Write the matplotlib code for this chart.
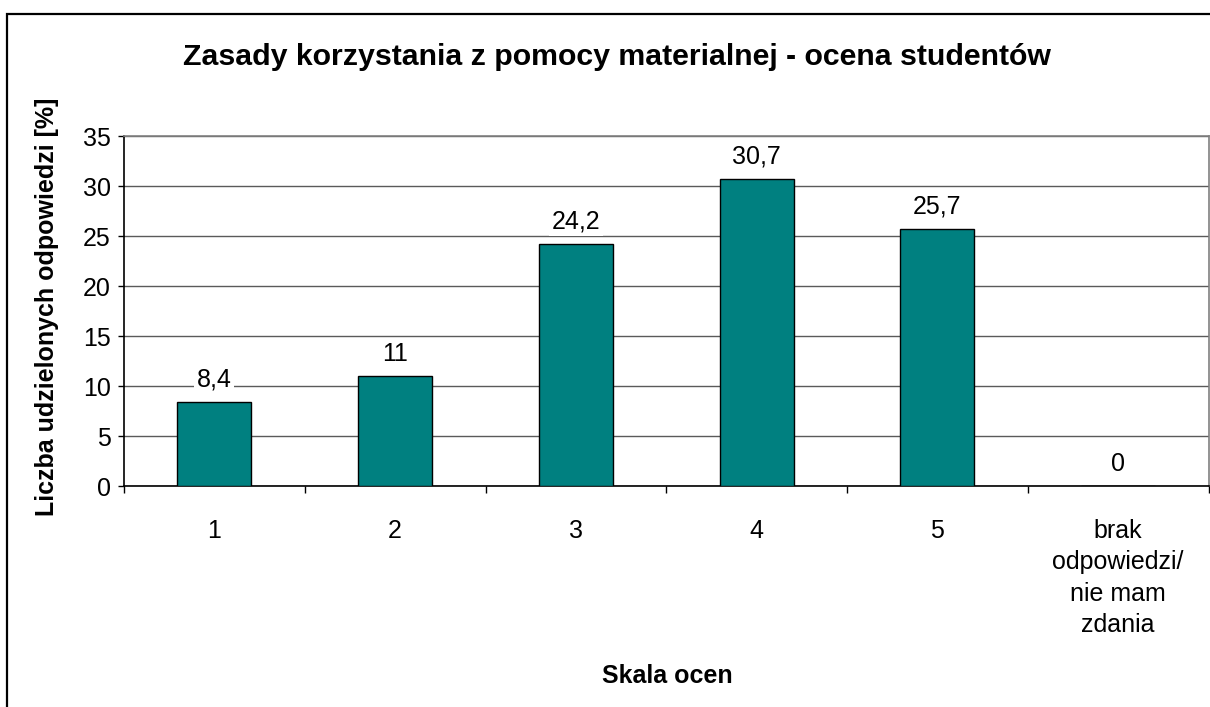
import matplotlib
matplotlib.use("Agg")
import matplotlib.pyplot as plt
from matplotlib.patches import Rectangle

categories = ["1", "2", "3", "4", "5", "brak\nodpowiedzi/\nnie mam\nzdania"]
values = [8.4, 11, 24.2, 30.7, 25.7, 0]
value_labels = ["8,4", "11", "24,2", "30,7", "25,7", "0"]
yticks = [0, 5, 10, 15, 20, 25, 30, 35]

plt.rcParams['font.family'] = ['Liberation Sans', 'DejaVu Sans']

W, H = 1210, 707
fig = plt.figure(figsize=(W / 100, H / 100), dpi=100)
fig.patch.set_facecolor('white')

# outer chart border (only left/top visible)
fig.patches.append(Rectangle((7 / W, -0.05), 1.2, 1 - 14 / H + 0.05,
                             transform=fig.transFigure, fill=False,
                             edgecolor='black', linewidth=1.6))

ax = fig.add_axes([124 / W, 1 - 486 / H, (1208.5 - 124) / W, (486 - 136) / H])
x = list(range(len(categories)))
ax.bar(x, values, width=0.41, color='#008080', edgecolor='black', linewidth=1, zorder=3)

ax.set_xlim(-0.5, len(categories) - 0.5)
ax.set_ylim(0, 35)
ax.set_yticks(yticks)
ax.set_yticklabels([str(v) for v in yticks], fontsize=18)
ax.yaxis.grid(True, color='#5a5a5a', linewidth=1, zorder=0)
ax.set_axisbelow(True)

ax.set_xticks(x)
ax.set_xticklabels(categories, fontsize=18, linespacing=1.4, va='top')
ax.set_xticks([i - 0.5 for i in range(len(categories) + 1)], minor=True)
ax.tick_params(axis='x', which='major', length=0, pad=23.5)
ax.tick_params(axis='x', which='minor', length=5, width=1, direction='out', color='black')
ax.tick_params(axis='y', length=4.5, width=1, direction='out', pad=5, color='black')

for side in ['top', 'right']:
    ax.spines[side].set_color('#808080')
    ax.spines[side].set_linewidth(1.2)
for side in ['left', 'bottom']:
    ax.spines[side].set_color('black')
    ax.spines[side].set_linewidth(1.2)

for xi, v, lab in zip(x, values, value_labels):
    ax.annotate(lab, (xi, v), xytext=(0, 11), textcoords='offset points',
                ha='center', va='baseline', fontsize=18, zorder=5,
                bbox=dict(boxstyle='square,pad=0.1', facecolor='white', edgecolor='none'))

fig.text(617 / W, 1 - 65 / H, "Zasady korzystania z pomocy materialnej - ocena studentów",
         ha='center', va='baseline', fontsize=21.8, fontweight='bold')
fig.text(667 / W, 1 - 683 / H, "Skala ocen", ha='center', va='baseline',
         fontsize=18, fontweight='bold')
fig.text(47 / W, 1 - 307 / H, "Liczba udzielonych odpowiedzi [%]", ha='center', va='center',
         rotation=90, fontsize=18, fontweight='bold')

fig.savefig("out.png", dpi=100, facecolor='white')
